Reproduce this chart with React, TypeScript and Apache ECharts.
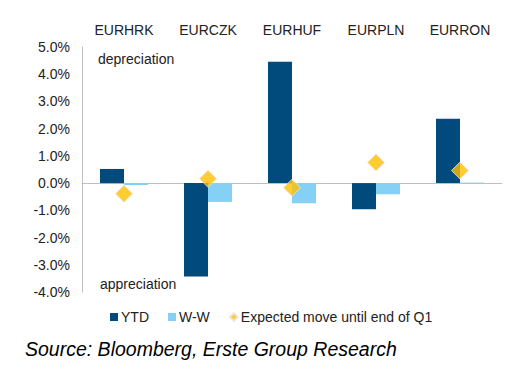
import React, { useEffect, useRef } from "react";
import * as echarts from "echarts";

const categories = ["EURHRK", "EURCZK", "EURHUF", "EURPLN", "EURRON"];
const ytd = [0.52, -3.43, 4.46, -0.96, 2.36];
const ww = [-0.07, -0.69, -0.74, -0.41, 0.02];
const expected = [-0.39, 0.16, -0.17, 0.76, 0.46];
const seriesNames = ["YTD", "W-W", "Expected move until end of Q1"];
const yMin = -4;
const yMax = 5;
const yInterval = 1;
const sourceText = "Source: Bloomberg, Erste Group Research";

const FONT = "Arial, 'Liberation Sans', sans-serif";

export default function App() {
  const ref = useRef<HTMLDivElement>(null);
  useEffect(() => {
    if (!ref.current) return;
    const chart = echarts.init(ref.current, undefined, { renderer: "svg" });
    chart.setOption({
      animation: false,
      backgroundColor: "#ffffff",
      textStyle: { fontFamily: FONT },
      grid: { left: 82, right: 10, top: 47, bottom: 80, containLabel: false },
      legend: {
        left: 110,
        top: 310,
        padding: 0,
        itemWidth: 8,
        itemHeight: 8,
        itemGap: 19,
        textStyle: { fontSize: 14, color: "#222", fontFamily: FONT, padding: [0, 0, 0, -2] },
        data: [
          { name: seriesNames[0], icon: "rect" },
          { name: seriesNames[1], icon: "rect" },
          { name: seriesNames[2], icon: "diamond" },
        ],
      },
      xAxis: [
        {
          type: "category",
          data: categories,
          position: "bottom",
          axisLine: { show: true, onZero: true, lineStyle: { color: "#BFBFBF", width: 1 } },
          axisTick: { show: false },
          axisLabel: { show: false },
          splitLine: { show: false },
        },
        {
          type: "category",
          data: categories,
          position: "top",
          axisLine: { show: false, onZero: false },
          axisTick: { show: false },
          axisLabel: { show: true, fontSize: 14, color: "#222", margin: 10, fontFamily: FONT },
          splitLine: { show: false },
        },
      ],
      yAxis: {
        type: "value",
        min: yMin,
        max: yMax,
        interval: yInterval,
        axisLine: { show: true, lineStyle: { color: "#BFBFBF", width: 1 } },
        axisTick: { show: false },
        splitLine: { show: false },
        axisLabel: {
          fontSize: 14,
          color: "#222",
          margin: 12,
          fontFamily: FONT,
          formatter: (v: number) => v.toFixed(1) + "%",
        },
      },
      series: [
        {
          name: seriesNames[0],
          type: "bar",
          data: ytd,
          barWidth: 24,
          barGap: "0%",
          itemStyle: { color: "#004A7C" },
        },
        {
          name: seriesNames[1],
          type: "bar",
          data: ww,
          barWidth: 24,
          barGap: "0%",
          itemStyle: { color: "#85D0F5" },
        },
        {
          name: seriesNames[2],
          type: "scatter",
          data: expected,
          symbol: "diamond",
          symbolSize: [17, 17],
          itemStyle: { color: "#FFC000", borderColor: "#E6E6E6", borderWidth: 1 },
          z: 5,
        },
      ],
      graphic: [
        {
          type: "text",
          left: 98,
          top: 52,
          style: { text: "depreciation", fontSize: 14, fill: "#222", fontFamily: FONT },
        },
        {
          type: "text",
          left: 100,
          top: 277,
          style: { text: "appreciation", fontSize: 14, fill: "#222", fontFamily: FONT },
        },
        {
          type: "text",
          left: 25,
          top: 339,
          style: {
            text: sourceText,
            fontSize: 19.5,
            fontStyle: "italic",
            fill: "#000",
            fontFamily: FONT,
          },
        },
      ],
    });
    return () => chart.dispose();
  }, []);
  return (
    <div
      ref={ref}
      style={{ position: "absolute", left: 0, top: 0, width: 512, height: 372 }}
    />
  );
}
